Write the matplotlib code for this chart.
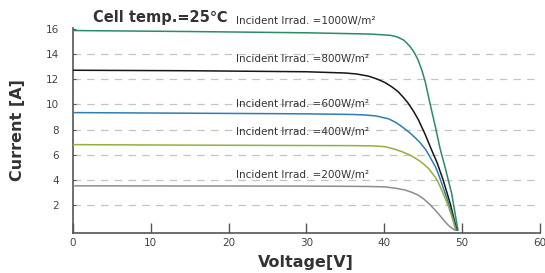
import matplotlib
matplotlib.use('Agg')
import matplotlib.pyplot as plt

# I-V curves
v1000 = [0, 15, 30, 38.2, 40.8, 41.7, 42.5, 42.9, 43.35, 43.7, 44.0, 44.4, 44.85, 45.3, 45.9, 46.6, 47.2, 47.85, 48.7, 49.5]
i1000 = [15.88, 15.8, 15.7, 15.6, 15.5, 15.37, 15.13, 14.9, 14.6, 14.3, 14.0, 13.5, 12.75, 11.8, 10.1, 8.23, 6.5, 5.0, 2.9, 0]
v800 = [0, 15, 30, 35, 36.5, 38, 39.1, 40.1, 41.0, 41.8, 42.5, 43.1, 43.8, 44.4, 45.3, 46.1, 46.8, 47.6, 48.5, 49.35]
i800 = [12.72, 12.68, 12.6, 12.5, 12.42, 12.25, 12.02, 11.75, 11.4, 11.02, 10.55, 10.1, 9.45, 8.8, 7.6, 6.4, 5.4, 3.99, 2.13, 0]
v600 = [0, 15, 30, 36, 37.5, 39, 40.6, 41.5, 42.3, 43.2, 44.0, 44.6, 45.3, 45.7, 46.6, 47.0, 47.4, 48.3, 48.9, 49.3]
i600 = [9.35, 9.3, 9.25, 9.2, 9.16, 9.08, 8.85, 8.57, 8.23, 7.8, 7.35, 6.98, 6.45, 6.05, 5.05, 4.45, 3.75, 2.13, 0.9, 0]
v400 = [0, 15, 30, 36, 38.5, 40.1, 41.3, 42.3, 43.4, 44.4, 45.0, 45.7, 46.1, 46.6, 47.0, 47.4, 47.85, 48.3, 48.9, 49.2]
i400 = [6.8, 6.76, 6.73, 6.72, 6.7, 6.64, 6.45, 6.24, 5.95, 5.58, 5.3, 4.92, 4.6, 4.2, 3.75, 3.2, 2.55, 1.86, 0.7, 0]
v200 = [0, 15, 30, 36, 38, 40.1, 41.5, 42.7, 43.6, 44.4, 45.1, 45.7, 46.1, 46.6, 47.1, 47.6, 48.0, 48.5, 49.1]
i200 = [3.52, 3.51, 3.5, 3.48, 3.47, 3.44, 3.33, 3.19, 3.0, 2.78, 2.48, 2.15, 1.9, 1.58, 1.22, 0.85, 0.55, 0.25, 0]

labels = ['Incident Irrad. =1000W/m²', 'Incident Irrad. =800W/m²', 'Incident Irrad. =600W/m²',
          'Incident Irrad. =400W/m²', 'Incident Irrad. =200W/m²']
label_y = [16.65, 13.6, 10.0, 7.8, 4.4]
colors = ['#2b8c63', '#1a1414', '#2e7db3', '#93b03c', '#8c8c8c']

fig = plt.figure(figsize=(5.45, 2.73), dpi=100)
ax = fig.add_axes([0.134, 0.148, 0.856, 0.748])

curves = [(v1000, i1000), (v800, i800), (v600, i600), (v400, i400), (v200, i200)]
for (v, i), c in zip(curves, colors):
    ax.plot(v, i, color=c, lw=1.1, zorder=3, solid_joinstyle='round')

for lab, y in zip(labels, label_y):
    ax.text(21.0, y, lab, fontsize=7.5, color='#333333', va='center', ha='left', clip_on=False)

ax.text(2.6, 16.95, 'Cell temp.=25℃', fontsize=10.5, fontweight='bold', color='#333333',
        va='center', ha='left', clip_on=False)

ax.set_xlim(0, 60)
ax.set_ylim(-0.2, 16.05)
ax.set_xticks(range(0, 61, 10))
ax.set_yticks(range(2, 17, 2))
for y in range(2, 15, 2):
    ax.axhline(y, color='#c4c4c4', lw=0.9, ls=(0, (6, 5)), zorder=1)

for s in ['top', 'right']:
    ax.spines[s].set_visible(False)
for s in ['left', 'bottom']:
    ax.spines[s].set_color('#555555')
    ax.spines[s].set_linewidth(1.2)
ax.tick_params(axis='x', direction='in', length=7, width=1, color='#555555',
               labelsize=7.5, labelcolor='#444444', pad=4)
ax.tick_params(axis='y', direction='in', length=2, width=0.8, color='#555555',
               labelsize=7.5, labelcolor='#444444', pad=10)

ax.set_xlabel('Voltage[V]', fontsize=11.5, fontweight='bold', color='#333333', labelpad=5)
ax.set_ylabel('Current [A]', fontsize=11.5, fontweight='bold', color='#333333', labelpad=15)

fig.savefig('out.png', dpi=100)
